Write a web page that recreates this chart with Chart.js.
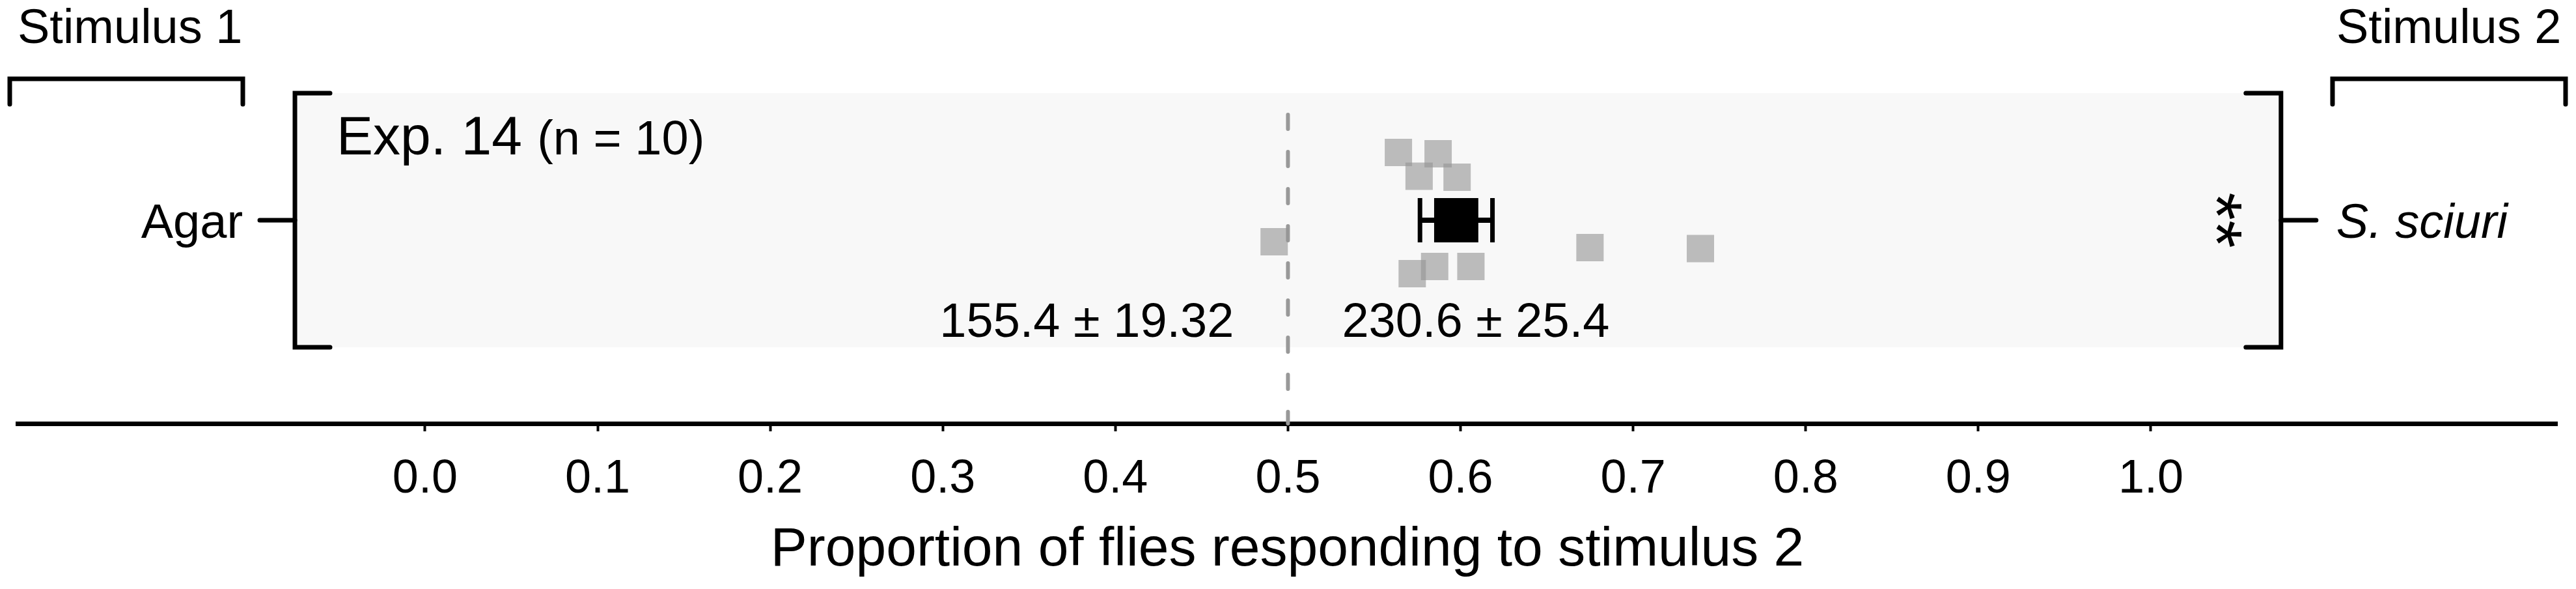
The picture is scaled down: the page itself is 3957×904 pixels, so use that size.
<!DOCTYPE html>
<html>
<head>
<meta charset="utf-8">
<title>Exp. 14 - Agar vs S. sciuri</title>
<script src="https://cdn.jsdelivr.net/npm/chart.js@4.4.1/dist/chart.umd.min.js"></script>
<style>
  html, body { margin: 0; padding: 0; background: #fff; }
  #myChart { display: block; }
</style>
</head>
<body>
<canvas id="myChart" width="3957" height="904"></canvas>
<script>
// data
const stimulusNames = ['Stimulus 1', 'Stimulus 2'];
const rowLabels = ['Agar', 'S. sciuri'];
const expName = 'Exp. 14';
const expN = 10;
const flyProportions = [0.564, 0.587, 0.576, 0.598, 0.492, 0.675, 0.739, 0.585, 0.606, 0.572];
const flyJitter = [0.533, 0.523, 0.346, 0.338, -0.169, -0.215, -0.223, -0.364, -0.364, -0.421];
const meanProportion = [0.5975];
const semProportion = [0.021];
const countLabels = ['155.4 \u00b1 19.32', '230.6 \u00b1 25.4'];
const significance = '**';
const chanceLevel = [0.5];
const tickValues = [0, 0.1, 0.2, 0.3, 0.4, 0.5, 0.6, 0.7, 0.8, 0.9, 1.0];
const tickLabels = ['0.0', '0.1', '0.2', '0.3', '0.4', '0.5', '0.6', '0.7', '0.8', '0.9', '1.0'];
const axisTitle = 'Proportion of flies responding to stimulus 2';

const FONT = '"Liberation Sans", Arial, Helvetica, sans-serif';
const panelX = [-0.0754, 1.0754];   // grey panel, in x units
const capHalf = 0.1744;             // error bar cap half height, in row units

function line(c, pts) {
  c.beginPath();
  c.moveTo(pts[0][0], pts[0][1]);
  for (let i = 1; i < pts.length; i++) c.lineTo(pts[i][0], pts[i][1]);
  c.stroke();
}

const decorPlugin = {
  id: 'decor',
  beforeDatasetsDraw(chart) {
    const c = chart.ctx, xs = chart.scales.x, ys = chart.scales.y;
    const l = xs.getPixelForValue(panelX[0]), r = xs.getPixelForValue(panelX[1]);
    const t = ys.getPixelForValue(1), b = ys.getPixelForValue(-1);
    c.save();
    c.fillStyle = '#f8f8f8';
    c.fillRect(l, t, r - l, b - t);
    c.restore();
  },
  afterDatasetsDraw(chart) {
    const c = chart.ctx, xs = chart.scales.x, ys = chart.scales.y;
    const l = xs.getPixelForValue(panelX[0]), r = xs.getPixelForValue(panelX[1]);
    const t = ys.getPixelForValue(1), b = ys.getPixelForValue(-1);
    const mid = ys.getPixelForValue(0);
    const W = chart.width;
    c.save();
    c.strokeStyle = '#000';
    c.lineWidth = 7;
    c.lineCap = 'round';
    c.lineJoin = 'miter';
    // panel brackets
    line(c, [[l + 54, t], [l, t], [l, b], [l + 54, b]]);
    line(c, [[r - 54, t], [r, t], [r, b], [r - 54, b]]);
    line(c, [[l, mid], [l - 54, mid]]);
    line(c, [[r, mid], [r + 54, mid]]);
    // stimulus brackets
    line(c, [[15, 160], [15, 121], [373, 121], [373, 160]]);
    line(c, [[W - 374, 160], [W - 374, 121], [W - 16, 121], [W - 16, 160]]);

    c.fillStyle = '#000';
    c.textBaseline = 'alphabetic';
    c.font = '74px ' + FONT;
    c.textAlign = 'left';
    c.fillText(stimulusNames[0], 27, 66);
    c.fillText(stimulusNames[1], W - 368, 66);
    // row labels
    c.textAlign = 'right';
    c.fillText(rowLabels[0], l - 80, mid + 27);
    c.textAlign = 'left';
    c.font = 'italic 74px ' + FONT;
    c.fillText(rowLabels[1], r + 85, mid + 27);
    // experiment label
    c.font = '84px ' + FONT;
    c.fillText(expName, l + 64, 237);
    const ew = c.measureText(expName + ' ').width;
    c.font = '74px ' + FONT;
    c.fillText('(n = ' + expN + ')', l + 64 + ew, 237);
    // counts either side of chance line
    const cx = xs.getPixelForValue(chanceLevel[0]);
    c.textAlign = 'right';
    c.fillText(countLabels[0], cx - 83, 517);
    c.textAlign = 'left';
    c.fillText(countLabels[1], cx + 83, 517);
    // significance stars, turned on their side
    c.translate(r - 106, mid);
    c.rotate(Math.PI / 2);
    c.font = '110px ' + FONT;
    c.textAlign = 'center';
    c.textBaseline = 'middle';
    c.fillText(significance, 0, 0);
    c.restore();
  }
};

const lo = meanProportion[0] - semProportion[0];
const hi = meanProportion[0] + semProportion[0];

const data = {
  datasets: [
    {
      label: 'mean',
      data: meanProportion.map(v => ({ x: v, y: 0 })),
      pointStyle: 'rect',
      pointRadius: 48,
      backgroundColor: '#000',
      borderWidth: 0,
      order: 0
    },
    {
      type: 'line',
      label: 'sem',
      data: [{ x: lo, y: 0 }, { x: hi, y: 0 }],
      borderColor: '#000',
      borderWidth: 8,
      pointRadius: 0,
      order: 1
    },
    {
      type: 'line',
      label: 'cap lo',
      data: [{ x: lo, y: capHalf }, { x: lo, y: -capHalf }],
      borderColor: '#000',
      borderWidth: 7,
      pointRadius: 0,
      order: 1
    },
    {
      type: 'line',
      label: 'cap hi',
      data: [{ x: hi, y: capHalf }, { x: hi, y: -capHalf }],
      borderColor: '#000',
      borderWidth: 7,
      pointRadius: 0,
      order: 1
    },
    {
      label: 'flies',
      data: flyProportions.map((v, i) => ({ x: v, y: flyJitter[i] })),
      pointStyle: 'rect',
      pointRadius: 29.7,
      backgroundColor: 'rgba(146,146,146,0.6)',
      borderWidth: 0,
      order: 2
    },
    {
      type: 'line',
      label: 'chance',
      data: [{ x: chanceLevel[0], y: 0.831 }, { x: chanceLevel[0], y: -1.6 }],
      borderColor: '#999',
      borderWidth: 6,
      borderDash: [22, 35],
      borderCapStyle: 'round',
      pointRadius: 0,
      clip: false,
      order: 3
    }
  ]
};

const config = {
  type: 'scatter',
  data: data,
  options: {
    responsive: false,
    animation: false,
    devicePixelRatio: 1,
    layout: { autoPadding: false, padding: { left: 27, right: 29, top: 0, bottom: 9 } },
    plugins: {
      legend: { display: false },
      tooltip: { enabled: false }
    },
    scales: {
      x: {
        type: 'linear',
        min: -0.2361,
        max: 1.2354,
        afterBuildTicks: axis => { axis.ticks = tickValues.map(v => ({ value: v })); },
        afterFit: axis => { axis.height = 245; },
        ticks: {
          autoSkip: false,
          maxRotation: 0,
          padding: 31,
          color: '#000',
          font: { family: FONT, size: 72 },
          callback: function(value) {
            const i = tickValues.findIndex(t => Math.abs(t - value) < 1e-6);
            return i >= 0 ? tickLabels[i] : '';
          }
        },
        grid: {
          display: true,
          drawOnChartArea: false,
          drawTicks: true,
          tickLength: 12,
          tickWidth: 4,
          tickColor: '#000'
        },
        border: { display: true, color: '#000', width: 7 },
        title: {
          display: true,
          text: axisTitle,
          color: '#000',
          font: { family: FONT, size: 84 },
          padding: { top: 16, bottom: 0 }
        }
      },
      y: {
        type: 'linear',
        display: false,
        min: -1.6,
        max: 1.7333
      }
    }
  },
  plugins: [decorPlugin]
};

var ctx = document.getElementById('myChart').getContext('2d');
var myChart = new Chart(ctx, config);
</script>
</body>
</html>
